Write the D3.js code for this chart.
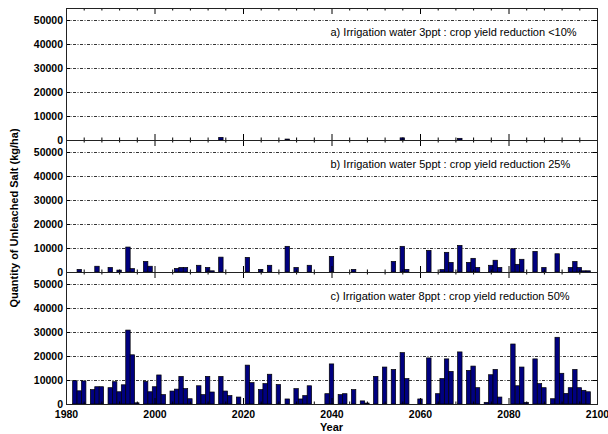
<!DOCTYPE html>
<html>
<head>
<meta charset="utf-8">
<script src="https://cdn.jsdelivr.net/npm/d3@7"></script>
<style>
  body { margin: 0; background: #fff; }
  svg text { font-family: "Liberation Sans", Arial, sans-serif; }
</style>
</head>
<body>
<svg id="chart" width="608" height="434"></svg>
<script>
// Annual quantity of unleached salt (kg/ha), one value per year 1982–2098
const years = d3.range(1982, 2099);

const salt3ppt = [
  0, 0, 0, 0, 0, 0, 0, 0, 0, 0,
  0, 0, 0, 0, 0, 0, 0, 0, 0, 0,
  0, 0, 0, 0, 0, 0, 0, 0, 0, 0,
  0, 0, 0, 1100, 0, 0, 0, 0, 0, 0,
  0, 0, 0, 0, 0, 0, 0, 0, 400, 0,
  0, 0, 0, 0, 0, 0, 0, 0, 0, 0,
  0, 0, 0, 0, 0, 0, 0, 0, 0, 0,
  0, 0, 0, 0, 900, 0, 0, 0, 0, 0,
  0, 0, 0, 0, 0, 0, 0, 700, 0, 0,
  0, 0, 0, 0, 0, 0, 0, 0, 0, 0,
  0, 0, 0, 0, 0, 0, 0, 0, 0, 0,
  0, 0, 0, 0, 0, 0, 0
];

const salt5ppt = [
  0, 1100, 0, 0, 0, 2400, 0, 0, 1900, 0,
  800, 0, 10400, 1400, 0, 0, 4400, 2400, 0, 0,
  0, 0, 0, 1500, 1900, 1900, 0, 0, 2800, 0,
  1900, 500, 0, 6200, 0, 0, 0, 0, 0, 6100,
  0, 0, 1100, 0, 2800, 0, 0, 0, 10700, 0,
  1900, 0, 0, 2800, 0, 0, 0, 0, 6500, 0,
  0, 0, 0, 1100, 0, 0, 0, 0, 0, 0,
  0, 0, 4400, 0, 10700, 1100, 0, 0, 0, 0,
  9000, 0, 0, 1000, 8200, 4000, 0, 11100, 0, 4000,
  5700, 1900, 0, 0, 2800, 4900, 1900, 0, 0, 9700,
  3200, 5300, 0, 0, 8600, 0, 1900, 0, 0, 7600,
  0, 0, 1900, 4400, 1900, 500, 500
];

const salt8ppt = [
  9700, 5500, 9600, 0, 6000, 7200, 7200, 0, 6800, 9300,
  5100, 8000, 30800, 20500, 500, 0, 9400, 5100, 7200, 12100,
  3900, 0, 5400, 6200, 11500, 6400, 2200, 0, 7600, 3900,
  11500, 5000, 0, 11500, 5400, 3500, 0, 2900, 0, 16200,
  8900, 0, 6000, 8500, 12400, 0, 8100, 0, 2100, 0,
  6400, 2100, 3500, 7600, 0, 0, 0, 4300, 16700, 0,
  3900, 4300, 0, 6000, 0, 1300, 400, 0, 11500, 0,
  15400, 0, 14400, 0, 21400, 10600, 0, 0, 2100, 0,
  19200, 0, 4300, 10600, 18800, 13600, 0, 21700, 0, 14000,
  15800, 6800, 0, 700, 12200, 14400, 2900, 0, 0, 25000,
  7600, 15400, 700, 0, 18800, 8500, 6800, 0, 2200, 27800,
  12800, 4400, 6800, 14400, 6800, 5700, 5100
];

const panelTitles = [
  "a) Irrigation water 3ppt : crop yield reduction <10%",
  "b) Irrigation water 5ppt : crop yield reduction 25%",
  "c) Irrigation water 8ppt : crop yield reduction 50%"
];
const seriesList = [salt3ppt, salt5ppt, salt8ppt];

const yTickValues = [0, 10000, 20000, 30000, 40000, 50000];
const yGridValues = [10000, 20000, 30000, 40000, 50000];
const xMajorTicks = [1980, 2000, 2020, 2040, 2060, 2080, 2100];
const xMinorTicks = [1984, 1988, 1992, 1996, 2004, 2008, 2012, 2016, 2024, 2028,
                     2032, 2036, 2044, 2048, 2052, 2056, 2064, 2068, 2072, 2076,
                     2084, 2088, 2092, 2096];

const xLabel = "Year";
const yLabel = "Quantity of Unleached Salt (kg/ha)";

// ---- layout ----
const svg = d3.select("#chart");
const plotLeft = 66, plotRight = 597, plotTop = 8, panelH = 132;
const barFill = "#000080";
const fontStack = "Liberation Sans, Arial, sans-serif";

const x = d3.scaleLinear().domain([1980, 2100]).range([plotLeft, plotRight]);
const y = d3.scaleLinear().domain([0, 55000]).range([panelH, 0]);
const barW = x(1981) - x(1980);

seriesList.forEach((values, i) => {
  const g = svg.append("g").attr("transform", `translate(0,${plotTop + i * panelH})`);

  // dash-dot grid
  g.append("g").selectAll("line")
    .data(yGridValues)
    .join("line")
    .attr("x1", plotLeft).attr("x2", plotRight)
    .attr("y1", d => y(d) + 0.5).attr("y2", d => y(d) + 0.5)
    .attr("stroke", "#000")
    .attr("stroke-width", 0.8)
    .attr("stroke-dasharray", "3,1.5,1,1.5");

  // bars
  const data = years.map((yr, k) => ({ yr, v: values[k] })).filter(d => d.v > 0);
  g.append("g").selectAll("rect")
    .data(data)
    .join("rect")
    .attr("x", d => x(d.yr) - barW / 2)
    .attr("width", barW)
    .attr("y", d => y(d.v))
    .attr("height", d => y(0) - y(d.v))
    .attr("fill", barFill)
    .attr("stroke", "#000")
    .attr("stroke-width", 0.7);

  // y axis (left, labels) and right (ticks only)
  const yl = g.append("g").attr("transform", `translate(${plotLeft},0)`)
    .call(d3.axisLeft(y).tickValues(yTickValues).tickSize(-4).tickPadding(3)
      .tickFormat(d3.format("d")));
  yl.select(".domain").remove();
  yl.selectAll("text").attr("font-size", 10.5).attr("font-weight", "bold")
    .attr("font-family", fontStack).attr("fill", "#000");
  yl.selectAll("line").attr("stroke", "#000");

  const yr = g.append("g").attr("transform", `translate(${plotRight},0)`)
    .call(d3.axisRight(y).tickValues(yTickValues).tickSize(-4).tickFormat(""));
  yr.select(".domain").remove();

  // x ticks, inward on top and bottom
  const addX = (axisFn, ypos, vals, size, labels) => {
    const ax = g.append("g").attr("transform", `translate(0,${ypos})`)
      .call(axisFn(x).tickValues(vals).tickSize(-size).tickPadding(7)
        .tickFormat(labels ? d3.format("d") : ""));
    ax.select(".domain").remove();
    ax.selectAll("line").attr("stroke", "#000");
    ax.selectAll("text").attr("font-size", 10.5).attr("font-weight", "bold")
      .attr("font-family", fontStack).attr("fill", "#000");
  };
  addX(d3.axisTop, 0, xMajorTicks, 6, false);
  addX(d3.axisTop, 0, xMinorTicks, 2.5, false);
  addX(d3.axisBottom, panelH, xMajorTicks, 6, i === 2);
  addX(d3.axisBottom, panelH, xMinorTicks, 2.5, false);

  // frame
  g.append("rect")
    .attr("x", plotLeft + 0.5).attr("y", 0.5)
    .attr("width", plotRight - plotLeft).attr("height", panelH)
    .attr("fill", "none").attr("stroke", "#222").attr("stroke-width", 1);

  // panel caption
  g.append("text")
    .attr("x", 330.5).attr("y", 27.5)
    .attr("font-size", 11)
    .attr("fill", "#000")
    .text(panelTitles[i]);
});

// axis titles
svg.append("text")
  .attr("x", (plotLeft + plotRight) / 2).attr("y", 431)
  .attr("text-anchor", "middle")
  .attr("font-size", 11).attr("font-weight", "bold")
  .text(xLabel);

svg.append("text")
  .attr("transform", "translate(18,218) rotate(-90)")
  .attr("text-anchor", "middle")
  .attr("font-size", 11).attr("font-weight", "bold")
  .text(yLabel);
</script>
</body>
</html>
